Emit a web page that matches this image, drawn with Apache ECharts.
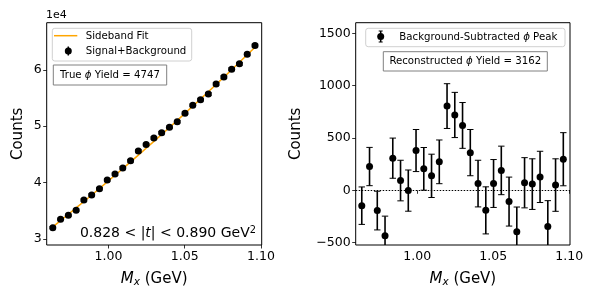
<!DOCTYPE html>
<html>
<head>
<meta charset="utf-8">
<script src="https://cdn.jsdelivr.net/npm/echarts@6/dist/echarts.min.js"></script>
<style>
html,body{margin:0;padding:0;background:#fff;}
#chart{width:598px;height:299px;}
</style>
</head>
<body>
<div id="chart"></div>
<script>
// ---- data ----
const massBins = [0.9635, 0.9686, 0.9737, 0.9788, 0.9839, 0.9890, 0.9941, 0.9992, 1.0043, 1.0094,
                  1.0145, 1.0196, 1.0247, 1.0298, 1.0349, 1.0400, 1.0451, 1.0502, 1.0553, 1.0604,
                  1.0655, 1.0706, 1.0757, 1.0808, 1.0859, 1.0910, 1.0961];
const signalPlusBkg = [32000, 33500, 34200, 35100, 36900, 37800, 38900, 40450, 41500, 42600,
                       43850, 45600, 46750, 47900, 48850, 49800, 50800, 52300, 53700, 54700,
                       55700, 57500, 58700, 60100, 61050, 62750, 64300];
const sidebandFit = [32150, 33260, 34380, 35510, 36650, 37800, 38950, 40120, 41290, 42480,
                     43670, 44870, 46090, 47300, 48530, 49770, 51020, 52280, 53550, 54820,
                     56110, 57400, 58700, 60020, 61340, 62670, 64010];
const subtracted = [-147, 227, -194, -434, 307, 93, -3, 380, 205, 138,
                    272, 805, 720, 620, 360, 64, -192, 65, 190, -108,
                    -396, 72, 59, 128, -346, 50, 297];
const errors = [179, 183, 185, 187, 192, 194, 197, 201, 204, 207,
                209, 214, 216, 219, 221, 223, 225, 229, 232, 234,
                236, 240, 242, 245, 247, 251, 254];
const xTicks = [1.00, 1.05, 1.10];
const leftYTicks = [30000, 40000, 50000, 60000];
const rightYTicks = [-500, 0, 500, 1000, 1500];
const trueYield = 4747;
const recoYield = 3162;

// ---- build ----
const FONT = 'DejaVu Sans';
const chart = echarts.init(document.getElementById('chart'), null, {renderer: 'canvas'});

function errRender(params, api) {
  const x = api.value(0), y = api.value(1), e = api.value(2);
  const t = api.coord([x, y + e]);
  const b = api.coord([x, y - e]);
  const hw = 3.2;
  return {
    type: 'group',
    children: [
      {type: 'line', shape: {x1: t[0], y1: t[1], x2: b[0], y2: b[1]}, style: {stroke: '#000', lineWidth: 1.6}},
      {type: 'line', shape: {x1: t[0] - hw, y1: t[1], x2: t[0] + hw, y2: t[1]}, style: {stroke: '#000', lineWidth: 1}},
      {type: 'line', shape: {x1: b[0] - hw, y1: b[1], x2: b[0] + hw, y2: b[1]}, style: {stroke: '#000', lineWidth: 1}}
    ]
  };
}

const leftPts = massBins.map((x, i) => [x, signalPlusBkg[i], errors[i]]);
const fitPts = massBins.map((x, i) => [x, sidebandFit[i]]);
const rightPts = massBins.map((x, i) => [x, subtracted[i], errors[i]]);

const tickLabelStyle = {fontFamily: FONT, fontSize: 12.5, color: '#000'};
const xName = '{i|M}{s|x} (GeV)';
const xNameStyle = {
  fontFamily: FONT, fontSize: 15, color: '#000',
  rich: {
    i: {fontFamily: FONT, fontSize: 15, fontStyle: 'italic', color: '#000'},
    s: {fontFamily: FONT, fontSize: 10.5, fontStyle: 'italic', color: '#000', padding: [7, 0, 0, 0]}
  }
};

function xAxisCfg(gi) {
  return {
    type: 'value', gridIndex: gi, min: 0.9595, max: 1.1005,
    splitLine: {show: false},
    axisLine: {show: false},
    axisTick: {show: true, length: 3.5, lineStyle: {color: '#000', width: 0.8}, customValues: xTicks},
    axisLabel: {show: true, margin: 5, ...tickLabelStyle, customValues: xTicks, formatter: v => v.toFixed(2)},
    name: xName, nameLocation: 'middle', nameGap: 25, nameTextStyle: xNameStyle
  };
}

const option = {
  animation: false,
  backgroundColor: '#fff',
  textStyle: {fontFamily: FONT},
  grid: [
    {left: 46.7, top: 22.7, width: 215, height: 222.3, show: true, borderColor: '#000', borderWidth: 1, backgroundColor: 'transparent'},
    {left: 355.7, top: 22.7, width: 214.3, height: 222.3, show: true, borderColor: '#000', borderWidth: 1, backgroundColor: 'transparent'}
  ],
  xAxis: [xAxisCfg(0), xAxisCfg(1)],
  yAxis: [
    {
      type: 'value', gridIndex: 0, min: 28930, max: 68350,
      splitLine: {show: false}, axisLine: {show: false},
      axisTick: {show: true, length: 3.5, lineStyle: {color: '#000', width: 0.8}, customValues: leftYTicks},
      axisLabel: {show: true, margin: 5, ...tickLabelStyle, customValues: leftYTicks, formatter: v => String(Math.round(v / 1e4))},
      name: 'Counts', nameLocation: 'middle', nameGap: 21, nameRotate: 90,
      nameTextStyle: {fontFamily: FONT, fontSize: 15, color: '#000'}
    },
    {
      type: 'value', gridIndex: 1, min: -523, max: 1602,
      splitLine: {show: false}, axisLine: {show: false},
      axisTick: {show: true, length: 3.5, lineStyle: {color: '#000', width: 0.8}, customValues: rightYTicks},
      axisLabel: {show: true, margin: 5, ...tickLabelStyle, customValues: rightYTicks, formatter: v => (v < 0 ? '\u2212' + Math.abs(v) : String(v))},
      name: 'Counts', nameLocation: 'middle', nameGap: 52, nameRotate: 90,
      nameTextStyle: {fontFamily: FONT, fontSize: 15, color: '#000'}
    }
  ],
  series: [
    {
      type: 'line', xAxisIndex: 0, yAxisIndex: 0, data: fitPts, showSymbol: false, symbol: 'none',
      lineStyle: {color: '#FFA500', width: 1.5}, z: 2, silent: true
    },
    {
      type: 'custom', xAxisIndex: 0, yAxisIndex: 0, data: leftPts, renderItem: errRender, clip: true, z: 3, silent: true
    },
    {
      type: 'scatter', xAxisIndex: 0, yAxisIndex: 0, data: leftPts.map(p => [p[0], p[1]]), symbol: 'circle', symbolSize: 7,
      itemStyle: {color: '#000', opacity: 1}, z: 4, silent: true
    },
    {
      type: 'custom', xAxisIndex: 1, yAxisIndex: 1, data: rightPts, renderItem: errRender, clip: true, z: 3, silent: true
    },
    {
      type: 'scatter', xAxisIndex: 1, yAxisIndex: 1, data: rightPts.map(p => [p[0], p[1]]), symbol: 'circle', symbolSize: 7,
      itemStyle: {color: '#000', opacity: 1}, z: 4, silent: true, clip: true,
      markLine: {
        silent: true, symbol: 'none', label: {show: false},
        lineStyle: {color: '#000', type: [1.5, 1.5], width: 1, opacity: 1},
        data: [{yAxis: 0}]
      }
    }
  ],
  graphic: {
    elements: [
      // offset text
      {type: 'text', left: 46, top: 10, style: {text: '1e4', font: '11px "DejaVu Sans"', fill: '#000'}},
      // left legend
      {type: 'rect', shape: {x: 52.3, y: 28.3, width: 139.4, height: 32.7, r: 2.5}, style: {fill: 'rgba(255,255,255,0.8)', stroke: '#d0d0d0', lineWidth: 1}, z: 10},
      {type: 'line', shape: {x1: 54, y1: 35.7, x2: 77.3, y2: 35.7}, style: {stroke: '#FFA500', lineWidth: 1.5}, z: 11},
      {type: 'text', style: {text: 'Sideband Fit', x: 85.7, y: 36, font: '10.2px "DejaVu Sans"', fill: '#000', textVerticalAlign: 'middle'}, z: 11},
      {type: 'line', shape: {x1: 68.3, y1: 46.5, x2: 68.3, y2: 55.5}, style: {stroke: '#000', lineWidth: 1.5}, z: 11},
      {type: 'circle', shape: {cx: 68.3, cy: 51, r: 3.5}, style: {fill: '#000'}, z: 11},
      {type: 'text', style: {text: 'Signal+Background', x: 85.7, y: 51, font: '10.2px "DejaVu Sans"', fill: '#000', textVerticalAlign: 'middle'}, z: 11},
      // true yield box
      {type: 'rect', shape: {x: 53.3, y: 65, width: 113.4, height: 20}, style: {fill: '#fff', stroke: '#808080', lineWidth: 1}, z: 10},
      {type: 'text', style: {text: 'True {i|\u03d5} Yield = ' + trueYield, x: 110, y: 75.3, font: '10.2px "DejaVu Sans"', fill: '#000', align: 'center', verticalAlign: 'middle',
        rich: {i: {fontStyle: 'italic', fontSize: 10.2, fontFamily: FONT}}}, z: 11},
      // t-range annotation
      {type: 'text', style: {text: '0.828 < |{i|t}| < 0.890 GeV{sup|2}', x: 256, y: 233.5, font: '14px "DejaVu Sans"', fill: '#000', align: 'right', verticalAlign: 'middle',
        rich: {i: {fontStyle: 'italic', fontSize: 14, fontFamily: FONT}, sup: {fontSize: 9.8, fontFamily: FONT, padding: [0, 0, 7, 0]}}}, z: 11},
      // right legend
      {type: 'rect', shape: {x: 365.7, y: 28.3, width: 199.3, height: 18.4, r: 2.5}, style: {fill: 'rgba(255,255,255,0.8)', stroke: '#d0d0d0', lineWidth: 1}, z: 10},
      {type: 'line', shape: {x1: 380.7, y1: 31, x2: 380.7, y2: 42}, style: {stroke: '#000', lineWidth: 1.5}, z: 11},
      {type: 'line', shape: {x1: 378.7, y1: 31, x2: 382.7, y2: 31}, style: {stroke: '#000', lineWidth: 1}, z: 11},
      {type: 'line', shape: {x1: 378.7, y1: 42, x2: 382.7, y2: 42}, style: {stroke: '#000', lineWidth: 1}, z: 11},
      {type: 'circle', shape: {cx: 380.7, cy: 36.5, r: 3.5}, style: {fill: '#000'}, z: 11},
      {type: 'text', style: {text: 'Background-Subtracted {i|\u03d5} Peak', x: 399.3, y: 37, font: '10.2px "DejaVu Sans"', fill: '#000', verticalAlign: 'middle',
        rich: {i: {fontStyle: 'italic', fontSize: 10.2, fontFamily: FONT}}}, z: 11},
      // reco yield box
      {type: 'rect', shape: {x: 383.3, y: 51.7, width: 164, height: 19.3}, style: {fill: '#fff', stroke: '#808080', lineWidth: 1}, z: 10},
      {type: 'text', style: {text: 'Reconstructed {i|\u03d5} Yield = ' + recoYield, x: 465.3, y: 61.5, font: '10.2px "DejaVu Sans"', fill: '#000', align: 'center', verticalAlign: 'middle',
        rich: {i: {fontStyle: 'italic', fontSize: 10.2, fontFamily: FONT}}}, z: 11}
    ]
  }
};
chart.setOption(option);
</script>
</body>
</html>
